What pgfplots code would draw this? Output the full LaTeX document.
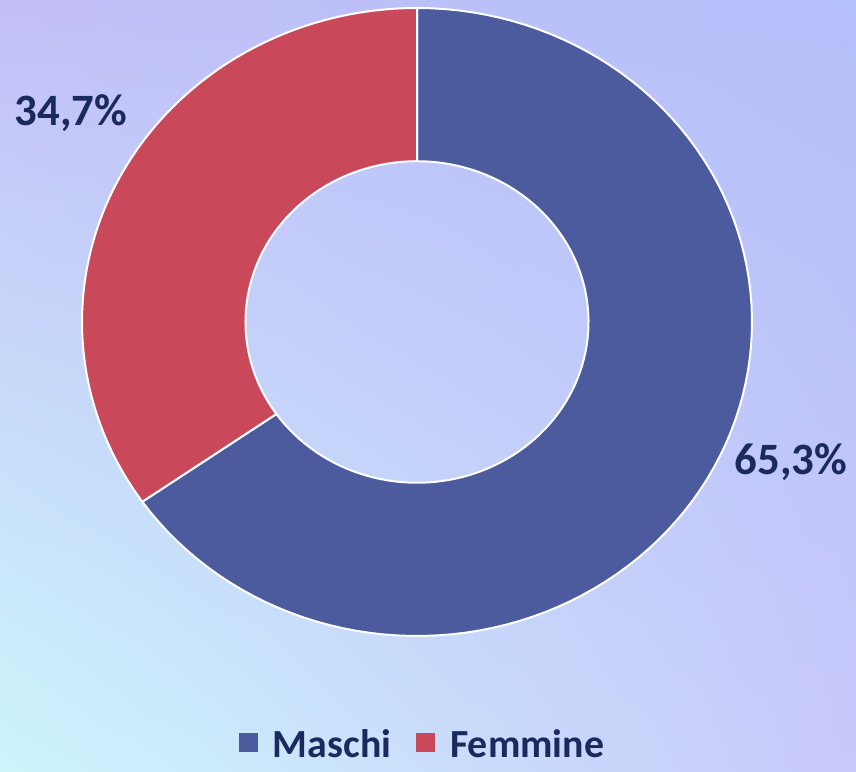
\documentclass[border=0pt]{standalone}
\usepackage{fontspec}
\setmainfont{Carlito}
\usepackage{pgfplots}
\usetikzlibrary{shadings}
\pgfplotsset{compat=1.18}
\definecolor{maschi}{HTML}{4C5A9E}
\definecolor{femmine}{HTML}{C9495B}
\definecolor{navy}{HTML}{1B2A5E}
\definecolor{bgTL}{HTML}{C3BFF7}
\definecolor{bgTR}{HTML}{B4C0FA}
\definecolor{bgBL}{HTML}{CCF6FC}
\definecolor{bgBR}{HTML}{C8C8FA}
\pgfplotsset{sqlegend/.style={legend image code/.code={\fill[##1, draw=none] (0bp,-8bp) rectangle (19bp,11bp); \path (32bp,0bp);}}}
% data (percent)
\def\vM{65.3}
\def\vF{34.7}
\pgfmathsetmacro\aA{90}
\pgfmathsetmacro\aB{90-3.6*\vM}
\pgfmathsetmacro\aC{\aB-3.6*\vF}
\def\rin{0.512}
\begin{document}
\begin{tikzpicture}[x=1bp,y=1bp]
\shade[upper left=bgTL, upper right=bgTR, lower left=bgBL, lower right=bgBR] (0,0) rectangle (856,772);
\begin{axis}[at={(417bp,450bp)}, anchor=center, width=670bp, height=628bp, scale only axis,
  xmin=-1, xmax=1, ymin=-1, ymax=1, hide axis, clip=false,
  legend style={at={(0.5075,-0.172)}, anchor=center, draw=none, fill=none,
    legend columns=2, font=\bfseries\fontsize{40}{42}\selectfont, text=navy,
    /tikz/every even column/.append style={column sep=24bp},
    nodes={inner sep=1bp}},
  legend cell align=left]
\addplot[fill=maschi, draw=white, line width=2bp, domain=0:201, samples=202, variable=\t, sqlegend]
  ({ifthenelse(\t<100.5, cos(\aA+(\aB-\aA)*\t/100), \rin*cos(\aB+(\aA-\aB)*(\t-101)/100))},
   {ifthenelse(\t<100.5, sin(\aA+(\aB-\aA)*\t/100), \rin*sin(\aB+(\aA-\aB)*(\t-101)/100))}) -- cycle;
\addlegendentry{Maschi}
\addplot[fill=femmine, draw=white, line width=2bp, domain=0:201, samples=202, variable=\t, sqlegend]
  ({ifthenelse(\t<100.5, cos(\aB+(\aC-\aB)*\t/100), \rin*cos(\aC+(\aB-\aC)*(\t-101)/100))},
   {ifthenelse(\t<100.5, sin(\aB+(\aC-\aB)*\t/100), \rin*sin(\aC+(\aB-\aC)*(\t-101)/100))}) -- cycle;
\addlegendentry{Femmine}
\node[font=\bfseries\fontsize{45}{47}\selectfont, text=navy] at (axis cs:-1.033,0.666) {34,7\%};
\node[font=\bfseries\fontsize{45}{47}\selectfont, text=navy] at (axis cs:1.116,-0.446) {65,3\%};
\end{axis}
\end{tikzpicture}
\end{document}
